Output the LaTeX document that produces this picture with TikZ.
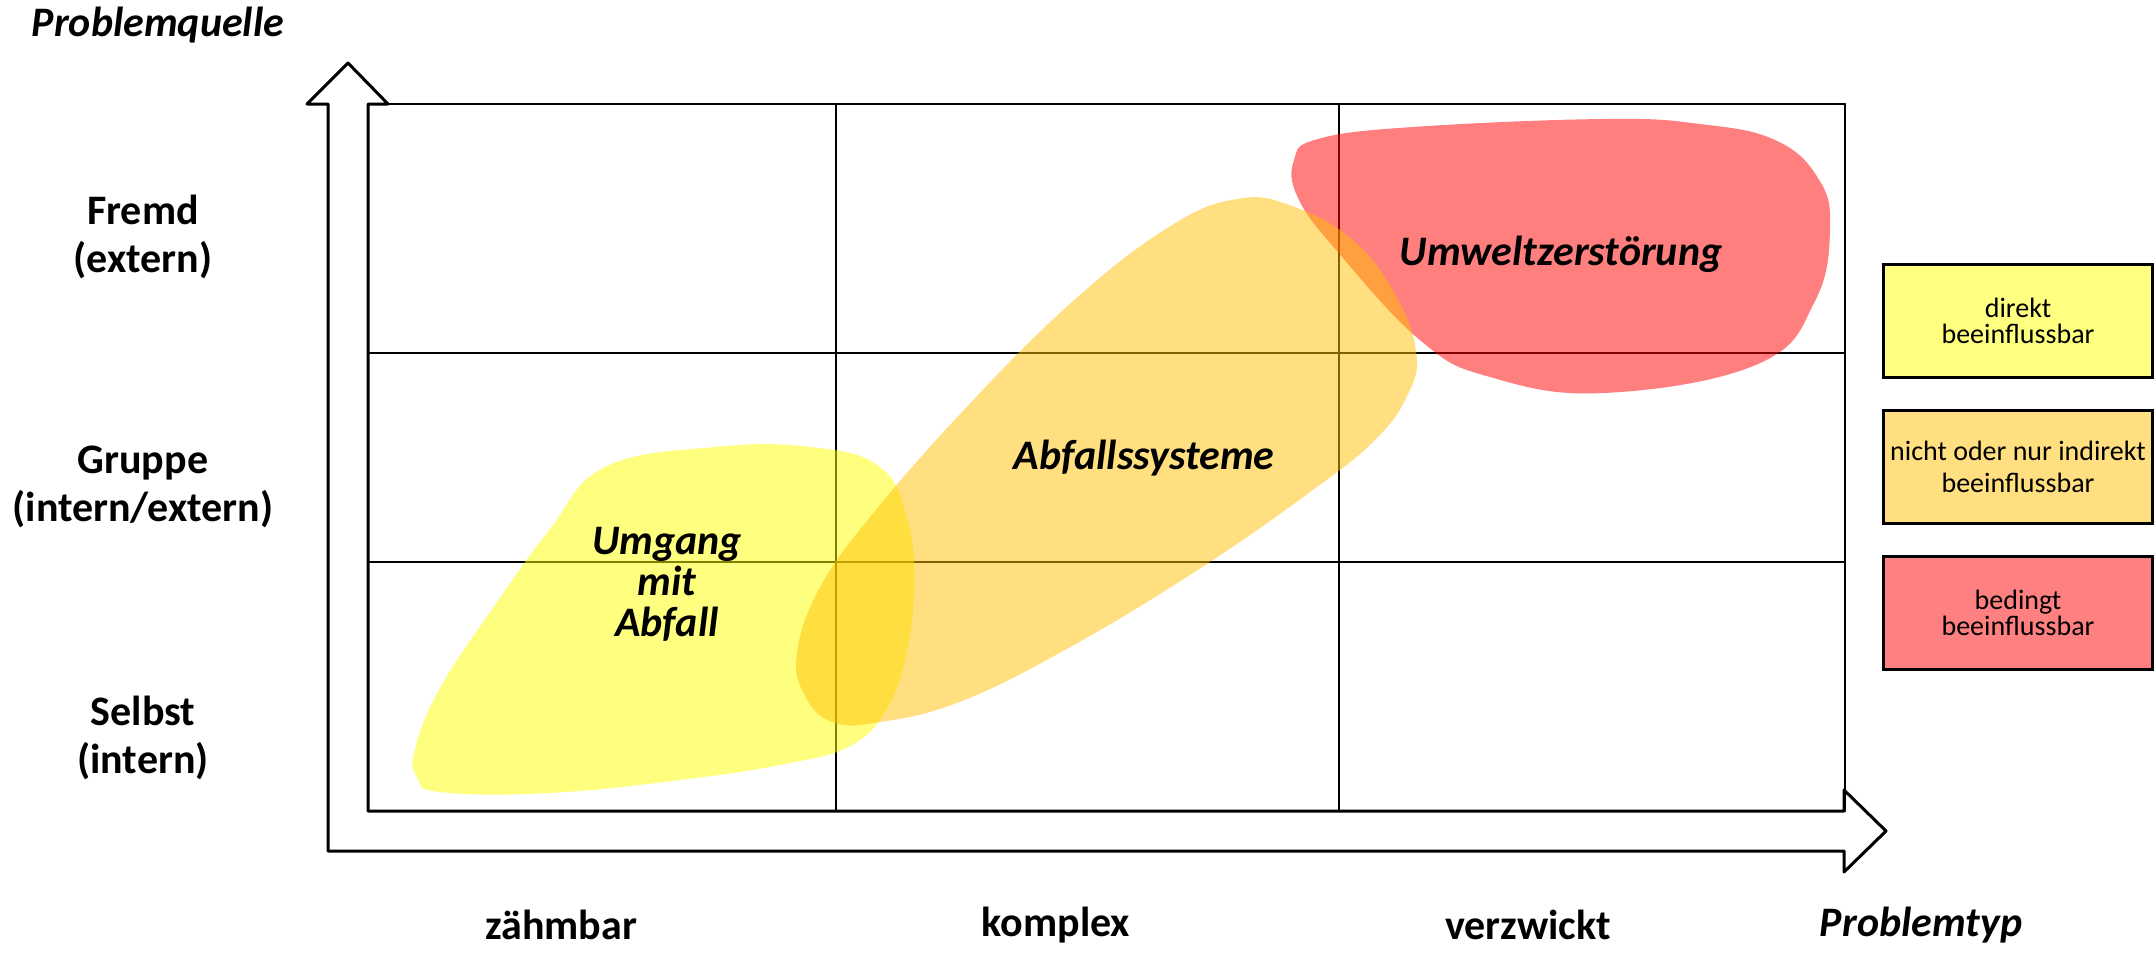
\documentclass[tikz,border=0pt]{standalone}
\usepackage{tikz, tkz-euclide}
\usepackage{fontspec}
\setmainfont{Carlito}
\definecolor{gelb}{HTML}{FFFF00}
\definecolor{orange}{HTML}{FFC000}
\definecolor{rot}{HTML}{FF0000}

\begin{document}
\begin{tikzpicture}[x = 0.5pt, y = -0.5pt,
  achse/.style = {font = \fontsize{21}{24}\selectfont\bfseries, align = center},
  titel/.style = {font = \fontsize{21}{24}\selectfont\bfseries\itshape},
  feld/.style = {font = \fontsize{21}{20.5}\selectfont\bfseries\itshape, align = center},
  blob/.style = {fill opacity = 0.5, smooth cycle, tension = 0.7},
  legende/.style = {draw, line width = 1.5pt, inner sep = 0pt, minimum width = 134.5pt,
    minimum height = 56.5pt, align = center, font = \fontsize{14}{13}\selectfont}]
\fill[white] (0,0) rectangle (2156,953);
\useasboundingbox (0,0) rectangle (2156,953);
\tkzDefPoints{328/851/A, 328/104/B, 307/104/C, 348/63/D, 388/104/E, 368/104/F,
  368/811/G, 1844/811/H, 1844/790/I, 1886/831/J, 1844/872/K, 1844/851/L}
\tkzDrawPolygon[line width = 1.5pt, fill = white](A,B,C,D,E,F,G,H,I,J,K,L)
\tkzDefPoints{1845/104/M, 1845/811/N, 836/104/S1, 836/811/S2, 1339/104/T1, 1339/811/T2,
  368/353/U1, 1845/353/U2, 368/562/V1, 1845/562/V2}
\tkzDrawSegments[line width = 1pt](F,M M,N S1,S2 T1,T2 U1,U2 V1,V2)
\fill[rot, blob] plot coordinates {(1318,139) (1294,160) (1298,198) (1337,251) (1421,341)
  (1490,377) (1604,393) (1758,364) (1815,301) (1830,227) (1818,178) (1775,140) (1700,124)
  (1604,119) (1413,127)};
\fill[gelb, blob] plot coordinates {(605,467) (715,447) (811,447) (880,467) (908,522)
  (914,591) (905,660) (885,712) (850,746) (790,763) (688,779) (550,793) (440,792)
  (417,777) (415,749) (440,688) (495,605) (550,529)};
\fill[orange, blob] plot coordinates {(1237,199) (1292,206) (1354,241) (1396,296)
  (1416,351) (1409,392) (1375,440) (1306,495) (1196,571) (1072,646) (962,701) (880,722)
  (832,722) (804,694) (797,653) (818,591) (866,522) (962,412) (1072,302) (1169,227)};
\node[feld] (umgang) at (667,584) {Umgang\\mit\\Abfall};
\node[feld] (system) at (1144,458) {Abfallssysteme};
\node[feld] (umwelt) at (1561,254) {Umweltzerstörung};
\node[achse] (fremd) at (143,237) {Fremd\\(extern)};
\node[achse] (gruppe) at (143,487) {Gruppe\\(intern/extern)};
\node[achse] (selbst) at (143,738) {Selbst\\(intern)};
\node[titel] (quelle) at (158,25) {Problemquelle};
\node[achse] (zahm) at (561,925) {zähmbar};
\node[achse] (komplex) at (1056,925) {komplex};
\node[achse] (verzwickt) at (1528,925) {verzwickt};
\node[titel] (typ) at (1921,925) {Problemtyp};
\node[legende, fill = gelb!50] (direkt) at (2018,321) {direkt\\beeinflussbar};
\node[legende, fill = orange!50, font = \fontsize{14}{16}\selectfont] (indirekt) at (2018,467)
  {nicht oder nur indirekt\\beeinflussbar};
\node[legende, fill = rot!50] (bedingt) at (2018,613) {bedingt\\beeinflussbar};
\end{tikzpicture}
\end{document}
